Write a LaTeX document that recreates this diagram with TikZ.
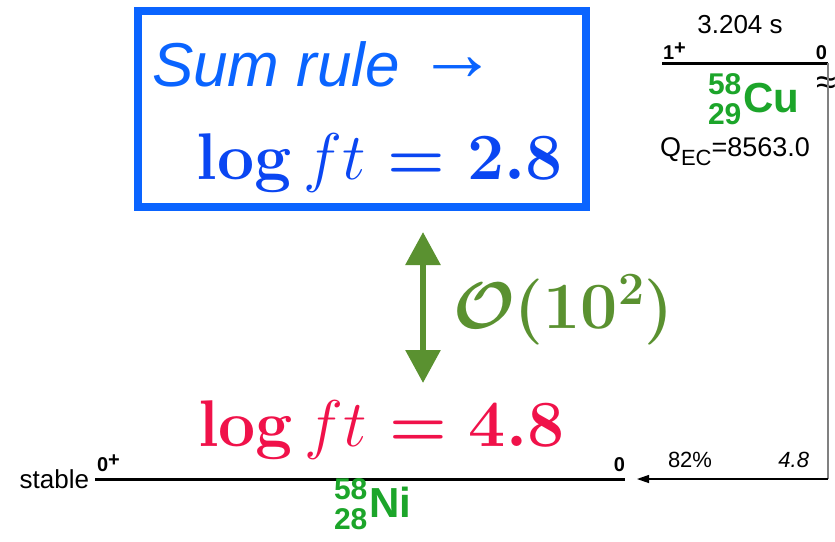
\RequirePackage{fix-cm}
\documentclass[tikz,border=0pt]{standalone}
\usepackage{amsmath}
\usepackage[no-math]{fontspec}
\setmainfont{Liberation Sans}
\usetikzlibrary{positioning,arrows.meta}
\definecolor{BoxBlue}{HTML}{0A64FF}
\definecolor{FtBlue}{HTML}{0A46F2}
\definecolor{FtRed}{HTML}{F0124A}
\definecolor{ArrGreen}{HTML}{5A9130}
\definecolor{NucGreen}{HTML}{1CA52A}
\newcommand{\nuc}[3]{{\fontsize{15}{14.5}\selectfont\raisebox{-6pt}{\begin{tabular}[b]{@{}r@{}}#1\\#2\end{tabular}}}\kern1pt#3}
\newcommand{\logft}[1]{$\mathop{\mathbf{log}}\nolimits ft \mskip1mu\mathrel{\boldsymbol{=}}\mskip1mu \boldsymbol{#1}$}

\begin{document}
\begin{tikzpicture}[x=0.5pt, y=-0.5pt,
    txt/.style={inner sep=0pt, outer sep=0pt},
    sumbox/.style={draw=BoxBlue, line width=4pt, minimum width=224pt,
      minimum height=98pt, inner sep=0pt},
    level/.style={line width=1.5pt},
    spin/.style={txt, font=\fontsize{10}{12}\selectfont\bfseries},
    nucl/.style={txt, text=NucGreen, font=\fontsize{21}{24}\selectfont\bfseries},
    bigmath/.style={txt, font=\fontsize{33}{40}\selectfont},
    boldbig/.style={txt, font=\fontsize{33}{40}\selectfont\boldmath},
    small/.style={txt, font=\fontsize{13}{15}\selectfont},
    dblarr/.style={{Triangle[length=16.5pt,width=17pt]}-{Triangle[length=16.5pt,width=17pt]},
      line width=3pt, draw=ArrGreen},
    decay/.style={-{Triangle[length=6pt,width=4pt]}, line width=0.6pt}
  ]
    \useasboundingbox (0,0) rectangle (835,541);

    % sum rule box
    \node[sumbox] (box) at (362,109) {};
    \node[txt, anchor=base west, text=BoxBlue, font=\fontsize{31}{37}\selectfont\itshape]
      (sumrule) at (152,86) {Sum rule \raisebox{3pt}{\fontsize{40}{40}\selectfont\upshape →}};
    \node[bigmath, anchor=base east, text=FtBlue] (ftsum) at (563,179) {\logft{2.8}};

    % factor between the two
    \coordinate (uptip) at (423,232);
    \coordinate (downtip) at (423,383);
    \draw[dblarr] (uptip) -- (downtip);
    \node[boldbig, anchor=base west, text=ArrGreen] (order) at (453,328) {$\mathcal{O}(10^2)$};
    \node[bigmath, anchor=base west, text=FtRed] (ftexp) at (198,446) {\logft{4.8}};

    % daughter level
    \coordinate (niL) at (95,479);
    \coordinate (niR) at (625,479);
    \draw[level] (niL) -- (niR);
    \node[spin, anchor=base west] (nispin) at (97,471) {0\raisebox{.25em}{+}};
    \node[spin, anchor=base east] (nien) at (625,471) {0};
    \node[small, anchor=east] (stable) at (89,479) {stable};
    \node[nucl, anchor=base west] (ni) at (334,517) {\nuc{58}{28}{Ni}};

    % parent level
    \coordinate (cuL) at (662,63);
    \coordinate (cuR) at (828,63);
    \draw[level] (cuL) -- (cuR);
    \node[spin, anchor=base west] (cuspin) at (663,59) {1\raisebox{.25em}{+}};
    \node[spin, anchor=base east] (cuen) at (827,59) {0};
    \node[small, anchor=base] (life) at (740,33) {3.204 s};
    \node[nucl, anchor=base west] (cu) at (708,112) {\nuc{58}{29}{Cu}};
    \node[txt, font=\fontsize{18}{20}\selectfont] (brk) at (826,86) {≈};
    \node[small, anchor=base west, font=\fontsize{13.5}{15}\selectfont] (qec) at (660,156)
      {Q\raisebox{-4.5pt}{\fontsize{11}{12}\selectfont EC}=8563.0};

    % EC branch
    \coordinate (turn) at (828,479);
    \coordinate (land) at (637,479);
    \draw[gray, line width=0.75pt] (cuR) -- (turn);
    \draw[decay] (turn) -- (land);
    \node[txt, anchor=base west, font=\fontsize{11}{13}\selectfont] (branch) at (668,467) {82\%};
    \node[txt, anchor=base east, font=\fontsize{11}{13}\selectfont\itshape] (logft) at (809,467) {4.8};
  \end{tikzpicture}
\end{document}
